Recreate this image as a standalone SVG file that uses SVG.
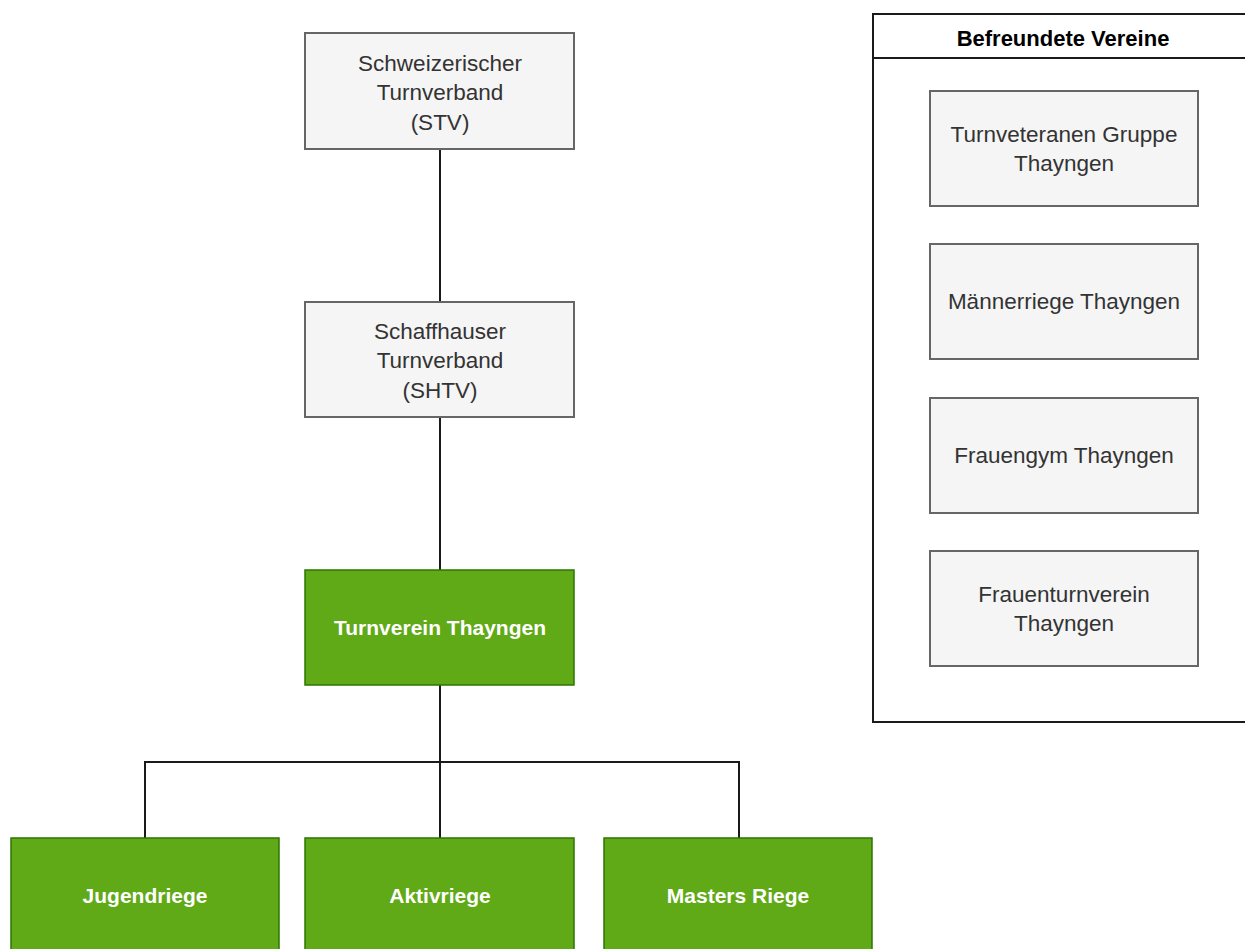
<svg xmlns="http://www.w3.org/2000/svg" width="1245" height="949" viewBox="0 0 1245 949">
<style>
.grey{fill:#f5f5f5;stroke:#666666;stroke-width:2}
.green{fill:#60a917;stroke:#2d7600;stroke-width:1.5}
.t{font-family:"Liberation Sans",Arial,sans-serif;font-size:22.5px;fill:#333333;text-anchor:middle;dominant-baseline:central}
.tw{font-family:"Liberation Sans",Arial,sans-serif;font-size:21px;font-weight:bold;fill:#ffffff;text-anchor:middle;dominant-baseline:central}
.th{font-family:"Liberation Sans",Arial,sans-serif;font-size:22px;font-weight:bold;fill:#000000;text-anchor:middle;dominant-baseline:central}
.c{fill:none;stroke:#1a1a1a;stroke-width:2}
</style>
<rect width="1245" height="949" fill="#ffffff"/>
<g id="connectors">
<path class="c" d="M440 149V302"/>
<path class="c" d="M440 417V570"/>
<path class="c" d="M440 685V838"/>
<path class="c" d="M145 838V762H739V838"/>
</g>
<g id="container">
<rect x="873" y="14" width="390" height="708" fill="#ffffff" stroke="#1a1a1a" stroke-width="2"/>
<path d="M873 58H1263" stroke="#1a1a1a" stroke-width="2"/>
<text class="th" x="1063" y="38">Befreundete Vereine</text>
</g>
<g id="stv">
<rect class="grey" x="305" y="33" width="269" height="116"/>
<text class="t" x="440" y="63">Schweizerischer</text>
<text class="t" x="440" y="92">Turnverband</text>
<text class="t" x="440" y="122">(STV)</text>
</g>
<g id="shtv">
<rect class="grey" x="305" y="302" width="269" height="115"/>
<text class="t" x="440" y="331">Schaffhauser</text>
<text class="t" x="440" y="360">Turnverband</text>
<text class="t" x="440" y="390">(SHTV)</text>
</g>
<g id="tvt">
<rect class="green" x="305" y="570" width="269" height="115"/>
<text class="tw" x="440" y="627">Turnverein Thayngen</text>
</g>
<g id="jugend">
<rect class="green" x="11" y="838" width="268" height="116"/>
<text class="tw" x="145" y="895">Jugendriege</text>
</g>
<g id="aktiv">
<rect class="green" x="305" y="838" width="269" height="116"/>
<text class="tw" x="440" y="895">Aktivriege</text>
</g>
<g id="masters">
<rect class="green" x="604" y="838" width="268" height="116"/>
<text class="tw" x="738" y="895">Masters Riege</text>
</g>
<g id="veteranen">
<rect class="grey" x="930" y="91" width="268" height="115"/>
<text class="t" x="1064" y="134">Turnveteranen Gruppe</text>
<text class="t" x="1064" y="163">Thayngen</text>
</g>
<g id="maenner">
<rect class="grey" x="930" y="244" width="268" height="115"/>
<text class="t" x="1064" y="301">Männerriege Thayngen</text>
</g>
<g id="frauengym">
<rect class="grey" x="930" y="398" width="268" height="115"/>
<text class="t" x="1064" y="455">Frauengym Thayngen</text>
</g>
<g id="frauenturn">
<rect class="grey" x="930" y="551" width="268" height="115"/>
<text class="t" x="1064" y="594">Frauenturnverein</text>
<text class="t" x="1064" y="623">Thayngen</text>
</g>
</svg>
